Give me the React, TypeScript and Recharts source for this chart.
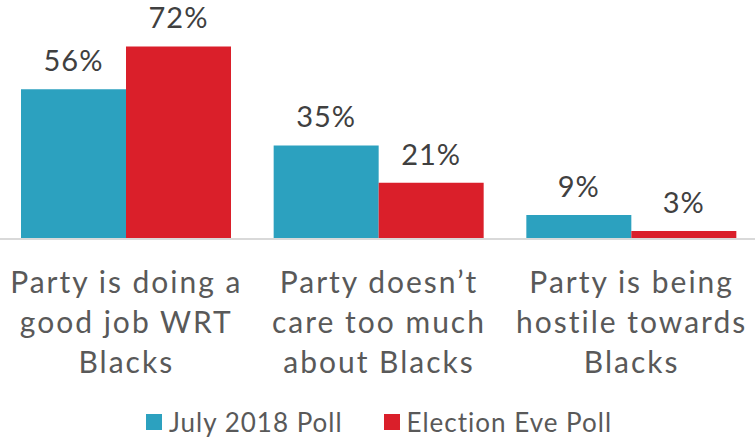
import React from "react";
import { BarChart, Bar, XAxis, YAxis, LabelList, Legend } from "recharts";

const categories = [
  "Party is doing a\ngood job WRT\nBlacks",
  "Party doesn\u2019t\ncare too much\nabout Blacks",
  "Party is being\nhostile towards\nBlacks",
];
const july2018 = [56, 35, 9];
const electionEve = [72, 21, 3];
const seriesNames = ["July 2018 Poll", "Election Eve Poll"];
const colors = ["#2CA1BF", "#DA1F2A"];

const data = categories.map((c, i) => ({
  category: c,
  july: july2018[i],
  eve: electionEve[i],
}));

const FONT = "Lato, 'Open Sans', sans-serif";

const Tick = (props: any) => {
  const { x, y, payload } = props;
  const lines = String(payload.value).split("\n");
  return (
    <text x={x} y={y} textAnchor="middle" fill="#595959" fontSize={30} letterSpacing={2} fontFamily={FONT}>
      {lines.map((l, i) => (
        <tspan key={i} x={x} dy={i === 0 ? 54 : 40}>
          {l}
        </tspan>
      ))}
    </text>
  );
};

const LegendContent = () => (
  <div
    style={{
      display: "flex",
      justifyContent: "center",
      alignItems: "center",
      fontFamily: FONT,
      fontSize: 26,
      lineHeight: "30px",
      letterSpacing: 1,
      color: "#595959",
      height: 40,
      boxSizing: "border-box",
      paddingTop: 4,
    }}
  >
    {seriesNames.map((n, i) => (
      <div key={n} style={{ display: "flex", alignItems: "center", marginRight: i === 0 ? 41 : 0 }}>
        <span style={{ width: 16, height: 16, background: colors[i], display: "inline-block", marginRight: 7 }} />
        <span>{n}</span>
      </div>
    ))}
  </div>
);

export default function App() {
  return (
    <div style={{ position: "absolute", left: 0, top: 0, width: 755, height: 440, overflow: "hidden", background: "#fff" }}>
      <BarChart
        width={758}
        height={440}
        data={data}
        margin={{ top: 25, right: 0, bottom: 0, left: 0 }}
        barCategoryGap={21}
        barGap={0}
      >
        <XAxis
          dataKey="category"
          axisLine={{ stroke: "#D9D9D9", strokeWidth: 2 }}
          tickLine={false}
          tickSize={0}
          tickMargin={0}
          height={161}
          interval={0}
          tick={<Tick />}
        />
        <YAxis hide domain={[0, 80]} />
        <Legend verticalAlign="bottom" height={40} content={<LegendContent />} />
        <Bar dataKey="july" name={seriesNames[0]} fill={colors[0]} isAnimationActive={false}>
          <LabelList
            dataKey="july"
            position="top"
            offset={18}
            formatter={(v: any) => `${v}%`}
            style={{ fill: "#404040", fontSize: 29, letterSpacing: 1, fontFamily: FONT }}
          />
        </Bar>
        <Bar dataKey="eve" name={seriesNames[1]} fill={colors[1]} isAnimationActive={false}>
          <LabelList
            dataKey="eve"
            position="top"
            offset={18}
            formatter={(v: any) => `${v}%`}
            style={{ fill: "#404040", fontSize: 29, letterSpacing: 1, fontFamily: FONT }}
          />
        </Bar>
      </BarChart>
    </div>
  );
}
